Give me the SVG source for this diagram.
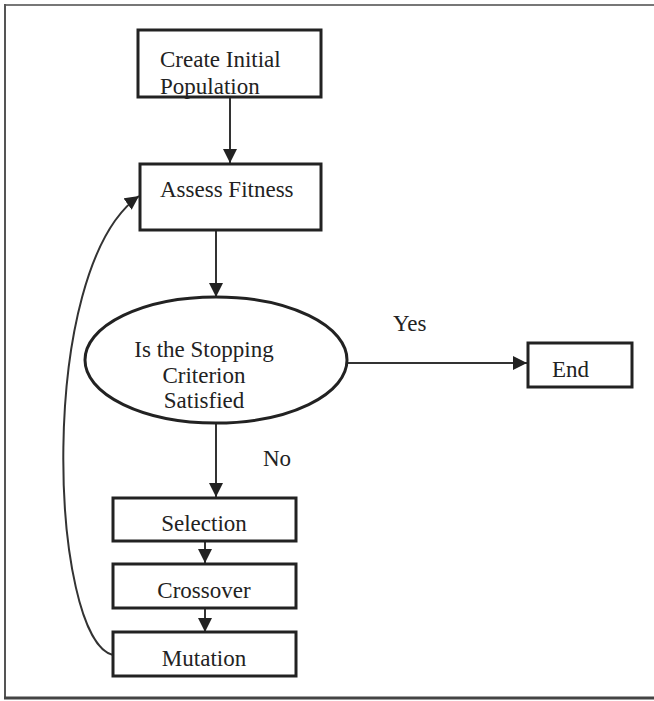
<svg xmlns="http://www.w3.org/2000/svg" width="654" height="701" viewBox="0 0 654 701">
<style>
.box{fill:#fff;stroke:#222;stroke-width:3}
.c{text-anchor:middle}
.ln{stroke:#333;stroke-width:2;fill:none}
</style>
<defs>
<marker id="ah2" viewBox="0 0 10 10" refX="10" refY="5" markerWidth="14" markerHeight="14" markerUnits="userSpaceOnUse" orient="auto">
<path d="M0,0 L10,5 L0,10 z" fill="#222"/>
</marker>
</defs>
<rect width="654" height="701" fill="#fff"/>
<g id="frame">
<line x1="5" y1="5" x2="654" y2="5" stroke="#777" stroke-width="2"/>
<line x1="5" y1="4" x2="5" y2="698" stroke="#555" stroke-width="2"/>
<line x1="4" y1="698" x2="654" y2="698" stroke="#444" stroke-width="3"/>
</g>
<g font-family="Liberation Serif, Times New Roman, serif" font-size="23" fill="#222">
<g id="connectors">
<line class="ln" x1="230" y1="97" x2="230" y2="163" marker-end="url(#ah2)"/>
<line class="ln" x1="216" y1="230" x2="216" y2="297" marker-end="url(#ah2)"/>
<line class="ln" x1="216" y1="422" x2="216" y2="497" marker-end="url(#ah2)"/>
<line class="ln" x1="205" y1="542" x2="205" y2="563" marker-end="url(#ah2)"/>
<line class="ln" x1="205" y1="608" x2="205" y2="632" marker-end="url(#ah2)"/>
<line class="ln" x1="347" y1="363" x2="527" y2="363" marker-end="url(#ah2)"/>
<path class="ln" stroke-width="1.5" d="M113,655 C50,640 35,270 139,196" marker-end="url(#ah2)"/>
<text x="393" y="331">Yes</text>
<text x="263" y="466">No</text>
</g>
<g id="create">
<rect class="box" x="138" y="30" width="183" height="67"/>
<text x="160" y="67">Create Initial</text>
<text x="160" y="94">Population</text>
</g>
<g id="assess">
<rect class="box" x="140" y="164" width="181" height="66"/>
<text x="160" y="197">Assess Fitness</text>
</g>
<g id="decision">
<ellipse cx="216" cy="360" rx="131" ry="63" fill="#fff" stroke="#222" stroke-width="3"/>
<text class="c" x="204" y="357">Is the Stopping</text>
<text class="c" x="204" y="383">Criterion</text>
<text class="c" x="204" y="408">Satisfied</text>
</g>
<g id="end">
<rect class="box" x="528" y="343" width="104" height="44"/>
<text x="552" y="377">End</text>
</g>
<g id="selection">
<rect class="box" x="113" y="498" width="183" height="43"/>
<text class="c" x="204" y="531">Selection</text>
</g>
<g id="crossover">
<rect class="box" x="113" y="564" width="183" height="44"/>
<text class="c" x="204" y="598">Crossover</text>
</g>
<g id="mutation">
<rect class="box" x="113" y="632" width="183" height="44"/>
<text class="c" x="204" y="666">Mutation</text>
</g>
</g>
</svg>
